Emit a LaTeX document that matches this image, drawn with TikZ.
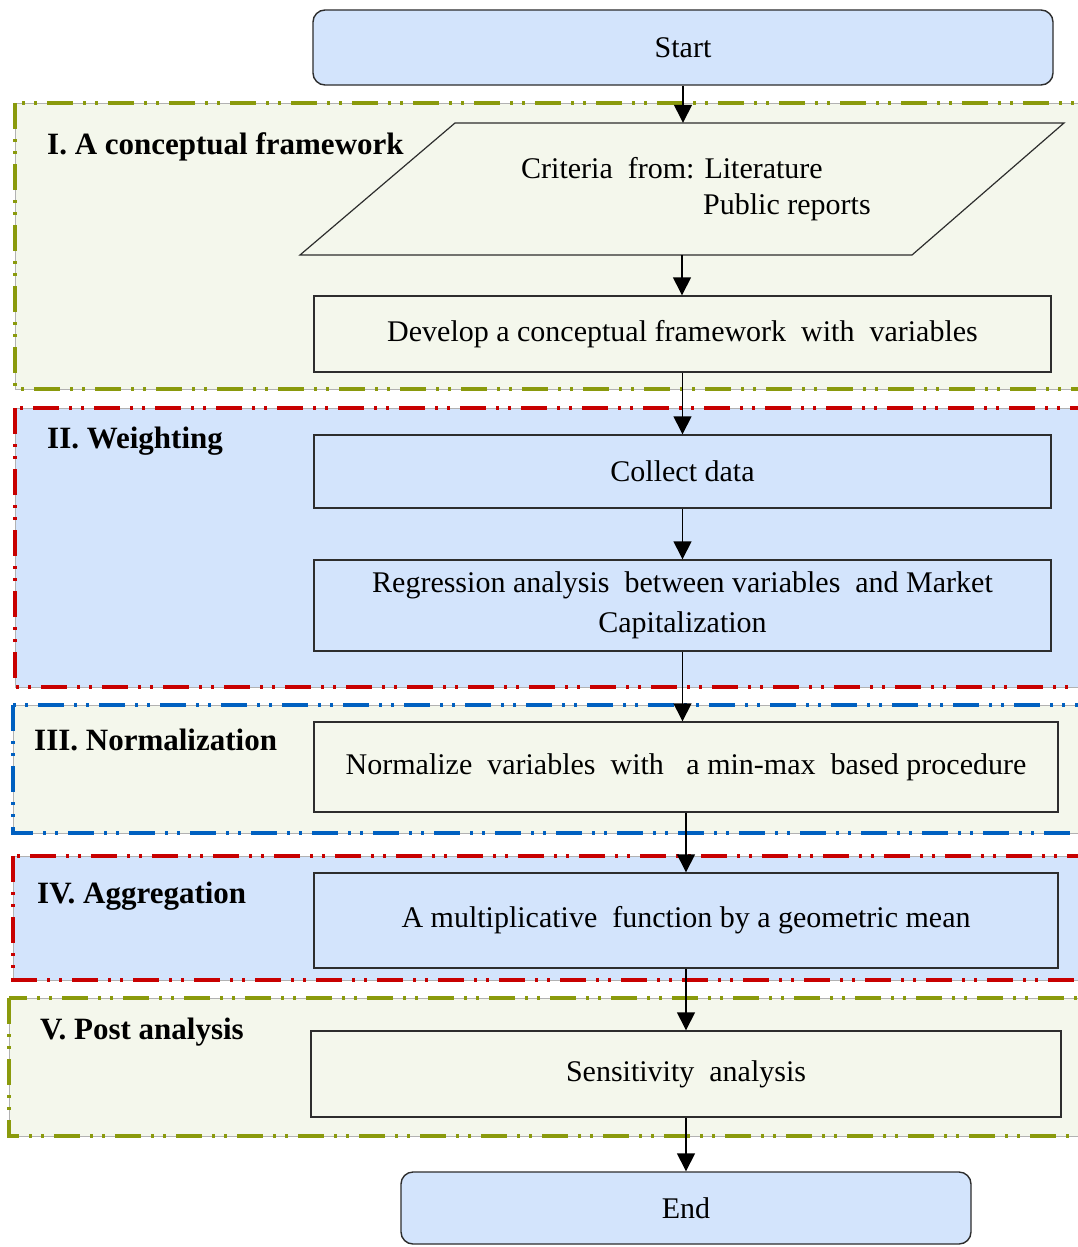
\documentclass[tikz,border=0pt]{standalone}
\usepackage{fontspec}
\setmainfont{Liberation Serif}
\usetikzlibrary{arrows.meta}
\definecolor{olv}{RGB}{138,154,12}
\definecolor{rd}{RGB}{200,0,0}
\definecolor{bl}{RGB}{0,96,192}
\definecolor{lgreen}{RGB}{244,247,236}
\definecolor{lblue}{RGB}{211,228,252}
\definecolor{boxline}{RGB}{45,45,45}
\begin{document}
\begin{tikzpicture}[x=1pt,y=-1pt,
  txt/.style={inner sep=0pt, font=\fontsize{30}{38}\selectfont},
  box/.style={txt, draw=boxline, line width=1.4pt, align=center},
  term/.style={box, rounded corners=12pt, fill=lblue},
  lab/.style={anchor=west, inner sep=0pt, font=\fontsize{31}{36}\selectfont\bfseries},
  arr/.style={draw=black, line width=1.4pt, -{Triangle[length=18pt,width=18pt]}},
  frameline/.style={draw=black!30, line width=0.8pt},
  framedash/.style={draw=#1, line width=3.6pt, dash pattern=on 26pt off 10pt on 3pt off 9pt on 3pt off 10pt}
]
\clip (0,0) rectangle (1078,1247);
\fill[white] (0,0) rectangle (1078,1247);

% frames
\fill[lgreen] (15,103) rectangle (1100,389);
\draw[frameline] (15,103) rectangle (1100,389);
\draw[framedash=olv] (15,103) rectangle (1100,389);

\fill[lblue] (15,408) rectangle (1100,687);
\draw[frameline] (15,408) rectangle (1100,687);
\draw[framedash=rd] (15,408) rectangle (1100,687);

\fill[lgreen] (13,705) rectangle (1100,833);
\draw[frameline] (13,705) rectangle (1100,833);
\draw[framedash=bl] (13,705) rectangle (1100,833);

\fill[lblue] (13,856) rectangle (1100,980);
\draw[frameline] (13,856) rectangle (1100,980);
\draw[framedash=rd] (13,856) rectangle (1100,980);

\fill[lgreen] (9,998) rectangle (1100,1136);
\draw[frameline] (9,998) rectangle (1100,1136);
\draw[framedash=olv] (9,998) rectangle (1100,1136);

% labels
\node[lab] (l1) at (47,147) {I. A conceptual framework};
\node[lab] (l2) at (47,441) {II. Weighting};
\node[lab] (l3) at (34,740) {III. Normalization};
\node[lab] (l4) at (37,896) {IV. Aggregation};
\node[lab] (l5) at (40,1032) {V. Post analysis};

% nodes
\node[term, minimum width=740, minimum height=75] (start) at (683,47.5) {Start};

\draw[draw=boxline, line width=1.2pt, fill=lgreen] (455,123) -- (1064,123) -- (912,255) -- (300,255) -- cycle;
\node[inner sep=0pt, minimum width=600, minimum height=132] (para) at (682,189) {};
\node[txt, anchor=west] (crit) at (521,168) {Criteria\ \ from: Literature};
\node[txt, anchor=west] (pub) at (703,207) {Public reports};

\node[box, fill=lgreen, minimum width=737, minimum height=76] (dev) at (682.5,334) {Develop a conceptual framework\ \ with\ \ variables};
\node[box, fill=lblue, minimum width=737, minimum height=73] (coll) at (682.5,471.5) {Collect data};
\node[box, fill=lblue, minimum width=737, minimum height=91] (reg) at (682.5,605.5) {Regression analysis\ \ between variables\ \ and Market\\[2pt]Capitalization};
\node[box, fill=lgreen, minimum width=744, minimum height=90] (norm) at (686,767) {Normalize\ \ variables\ \ with\ \ \ a min-max\ \ based procedure};
\node[box, fill=lblue, minimum width=744, minimum height=95] (mult) at (686,920.5) {A multiplicative\ \ function by a geometric mean};
\node[box, fill=lgreen, minimum width=750, minimum height=86] (sens) at (686,1074) {Sensitivity\ \ analysis};
\node[term, minimum width=570, minimum height=72] (end) at (686,1208) {End};

% arrows
\draw[arr] (start.south) -- (start.south |- para.north);
\draw[arr] (para.south) -- (para.south |- dev.north);
\draw[arr] (dev.south) -- (coll.north);
\draw[arr] (coll.south) -- (reg.north);
\draw[arr] (reg.south) -- (reg.south |- norm.north);
\draw[arr] (norm.south) -- (mult.north);
\draw[arr] (mult.south) -- (sens.north);
\draw[arr] (sens.south) -- (end.north);
\end{tikzpicture}
\end{document}
